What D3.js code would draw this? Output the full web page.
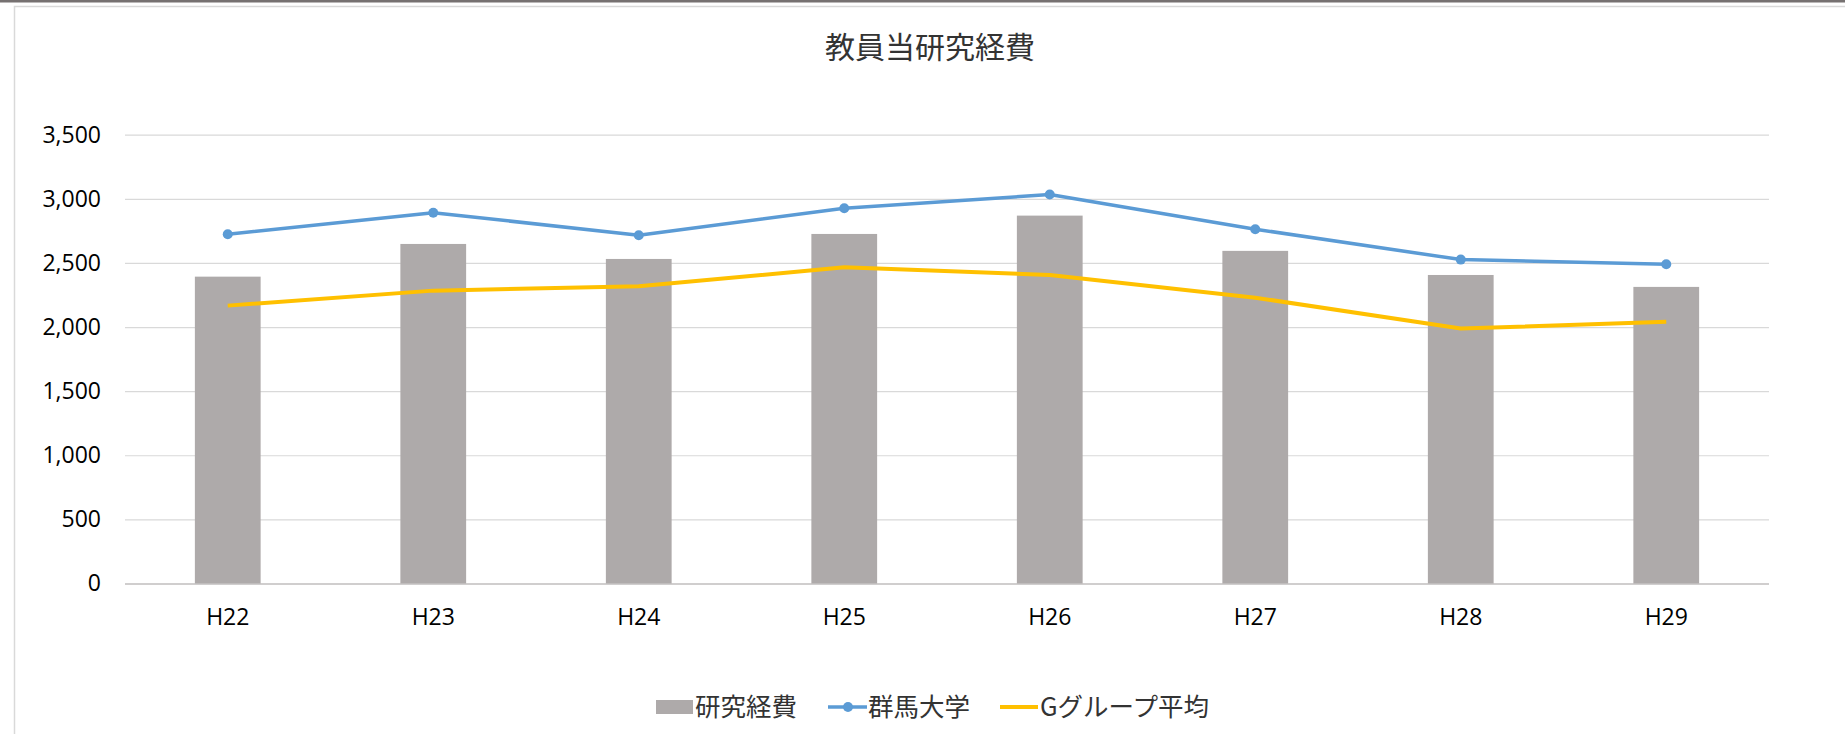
<!DOCTYPE html>
<html>
<head>
<meta charset="utf-8">
<script src="https://cdn.jsdelivr.net/npm/d3@7"></script>
<style>
  body { margin: 0; background: #fff; }
  svg { display: block; }
</style>
</head>
<body>
<svg id="chart"></svg>
<script>
// data
const categories = ["H22", "H23", "H24", "H25", "H26", "H27", "H28", "H29"];
const researchCost = [2393, 2648, 2531, 2726, 2869, 2594, 2406, 2313];   // 研究経費 (bars)
const gunmaUniv = [2724, 2892, 2716, 2927, 3033, 2763, 2526, 2490];      // 群馬大学
const groupAvg = [2167, 2284, 2318, 2466, 2406, 2229, 1988, 2042];       // Gグループ平均
const yTicks = [0, 500, 1000, 1500, 2000, 2500, 3000, 3500];
const seriesNames = ["研究経費", "群馬大学", "Gグループ平均"];

const W = 1845, H = 734;
const margin = {top: 134.7, right: 76, bottom: 150.5, left: 125};
const jp = "'Noto Sans CJK JP', 'Noto Sans', sans-serif";
const num = "'Open Sans', 'Liberation Sans', sans-serif";

const svg = d3.select("#chart")
    .attr("width", W)
    .attr("height", H);

// frame like the spreadsheet chart area
svg.append("rect")
    .attr("x", 0).attr("y", 0)
    .attr("width", W).attr("height", 2.5)
    .attr("fill", "#767171");
svg.append("rect")
    .attr("x", 14.5).attr("y", 6.5)
    .attr("width", W + 10).attr("height", H + 10)
    .attr("fill", "none")
    .attr("stroke", "#d9d9d9")
    .attr("stroke-width", 1.5);

const innerW = W - margin.left - margin.right;
const innerH = H - margin.top - margin.bottom;

const chart = svg.append("g")
    .attr("transform", `translate(${margin.left}, ${margin.top})`);

const xscale = d3.scaleBand()
    .domain(categories)
    .range([0, innerW])
    .paddingInner(0.68)
    .paddingOuter(0.34);

const yscale = d3.scaleLinear()
    .domain([0, 3500])
    .range([innerH, 0]);

const cx = c => xscale(c) + xscale.bandwidth() / 2;

// y axis + gridlines
const yaxis = d3.axisLeft(yscale)
    .tickValues(yTicks)
    .tickSize(-innerW)
    .tickPadding(24)
    .tickFormat(d3.format(","));

const yg = chart.append("g").call(yaxis);
yg.select(".domain").remove();
yg.selectAll(".tick line")
    .attr("stroke", d => d === 0 ? "#d0cece" : "#d9d9d9")
    .attr("stroke-width", d => d === 0 ? 2 : 1.2);
yg.selectAll(".tick text")
    .attr("font-family", num)
    .attr("font-size", 23)
    .attr("fill", "#000");

// x axis
const xaxis = d3.axisBottom(xscale)
    .tickSize(0)
    .tickPadding(25);

const xg = chart.append("g")
    .attr("transform", `translate(0, ${innerH})`)
    .call(xaxis);
xg.select(".domain").remove();
xg.selectAll(".tick text")
    .attr("font-family", num)
    .attr("font-size", 23)
    .attr("fill", "#000");

// bars
chart.selectAll("rect.bar")
    .data(categories)
    .enter()
    .append("rect")
    .attr("class", "bar")
    .attr("x", d => xscale(d))
    .attr("y", (d, i) => yscale(researchCost[i]))
    .attr("width", xscale.bandwidth())
    .attr("height", (d, i) => innerH - yscale(researchCost[i]))
    .attr("fill", "#aeaaaa");

// lines
const line = d3.line()
    .x((d, i) => cx(categories[i]))
    .y(d => yscale(d));

chart.append("path")
    .attr("d", line(groupAvg))
    .attr("fill", "none")
    .attr("stroke", "#ffc000")
    .attr("stroke-width", 4)
    .attr("stroke-linejoin", "round");

chart.append("path")
    .attr("d", line(gunmaUniv))
    .attr("fill", "none")
    .attr("stroke", "#5b9bd5")
    .attr("stroke-width", 3.5)
    .attr("stroke-linejoin", "round");

chart.selectAll("circle.pt")
    .data(gunmaUniv)
    .enter()
    .append("circle")
    .attr("class", "pt")
    .attr("cx", (d, i) => cx(categories[i]))
    .attr("cy", d => yscale(d))
    .attr("r", 5)
    .attr("fill", "#5b9bd5");

// title
svg.append("text")
    .attr("x", 930)
    .attr("y", 47)
    .attr("dy", "0.36em")
    .attr("text-anchor", "middle")
    .attr("font-family", jp)
    .attr("font-size", 30)
    .attr("fill", "#333")
    .text("教員当研究経費");

// legend
const legY = 707;
const leg = svg.append("g").attr("font-family", jp).attr("font-size", 25.5).attr("fill", "#333");

leg.append("rect")
    .attr("x", 656).attr("y", legY - 7)
    .attr("width", 37).attr("height", 14)
    .attr("fill", "#aeaaaa");
leg.append("text")
    .attr("x", 695).attr("y", legY).attr("dy", "0.36em")
    .text(seriesNames[0]);

leg.append("line")
    .attr("x1", 828).attr("x2", 867)
    .attr("y1", legY).attr("y2", legY)
    .attr("stroke", "#5b9bd5").attr("stroke-width", 3.5);
leg.append("circle")
    .attr("cx", 848).attr("cy", legY).attr("r", 5)
    .attr("fill", "#5b9bd5");
leg.append("text")
    .attr("x", 868).attr("y", legY).attr("dy", "0.36em")
    .text(seriesNames[1]);

leg.append("line")
    .attr("x1", 1000).attr("x2", 1038)
    .attr("y1", legY).attr("y2", legY)
    .attr("stroke", "#ffc000").attr("stroke-width", 4);
leg.append("text")
    .attr("x", 1040).attr("y", legY).attr("dy", "0.36em")
    .text(seriesNames[2]);
</script>
</body>
</html>
